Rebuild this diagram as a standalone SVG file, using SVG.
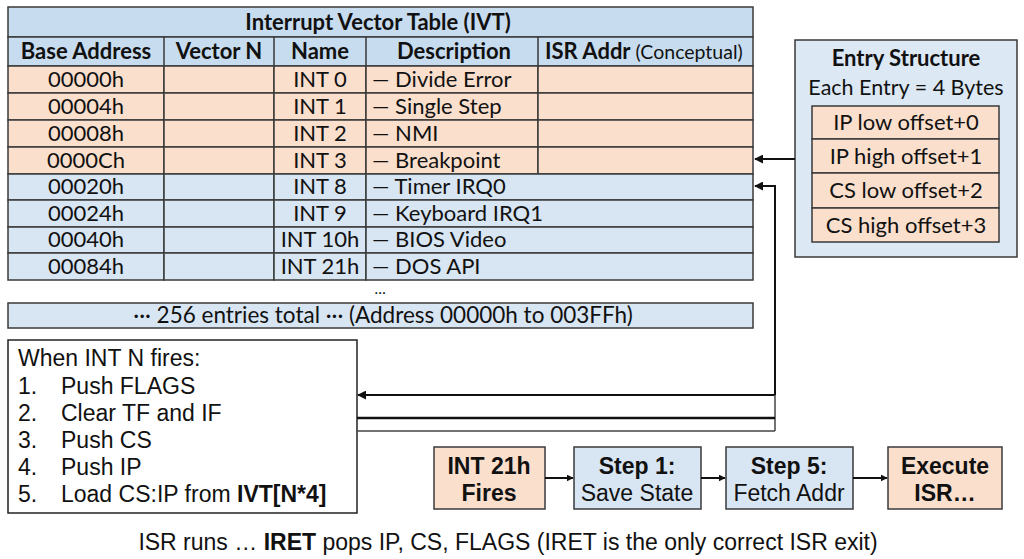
<svg xmlns="http://www.w3.org/2000/svg" width="1024" height="559" viewBox="0 0 1024 559">
<style>
.cal{font-family:Lato,"Open Sans","Noto Sans",sans-serif;fill:#111}
.ar{font-family:"Liberation Sans",Arial,sans-serif;fill:#111}
.b{font-weight:bold}
.peach{fill:#fadfcd;stroke:#3a3a3a;stroke-width:1.5}
.blue{fill:#d8e5f2;stroke:#3a3a3a;stroke-width:1.5}
.hdr{fill:#c8dcef;stroke:#3a3a3a;stroke-width:1.5}
.cell{font-size:22px}
.ctr{text-anchor:middle}
.ln{stroke:#111;stroke-width:2;fill:none}
.st{font-size:23px}
</style>
<defs>
<marker id="ah" viewBox="0 0 10 10" refX="9" refY="5" markerWidth="7" markerHeight="7" orient="auto" markerUnits="userSpaceOnUse">
<path d="M0,0 L10,5 L0,10 z" fill="#111"/>
</marker>
<marker id="ah2" viewBox="0 0 10 10" refX="9" refY="5" markerWidth="9" markerHeight="9" orient="auto" markerUnits="userSpaceOnUse">
<path d="M0,0 L10,5 L0,10 z" fill="#111"/>
</marker>
</defs>
<rect width="1024" height="559" fill="#ffffff"/>

<g id="ivt-table">
<rect class="hdr" x="8" y="7" width="745" height="30"/>
<text class="cal b ctr" x="378" y="30" font-size="22">Interrupt Vector Table (IVT)</text>
<rect class="hdr" x="8" y="37" width="745" height="29"/>
<line x1="164" y1="37" x2="164" y2="66" stroke="#3a3a3a" stroke-width="1.5"/>
<line x1="274" y1="37" x2="274" y2="66" stroke="#3a3a3a" stroke-width="1.5"/>
<line x1="366" y1="37" x2="366" y2="66" stroke="#3a3a3a" stroke-width="1.5"/>
<line x1="538" y1="37" x2="538" y2="66" stroke="#3a3a3a" stroke-width="1.5"/>
<text class="cal b ctr" x="86" y="59" font-size="22">Base Address</text>
<text class="cal b ctr" x="219" y="59" font-size="22">Vector N</text>
<text class="cal b ctr" x="320" y="59" font-size="22">Name</text>
<text class="cal b ctr" x="454" y="59" font-size="22">Description</text>
<text class="cal" x="545" y="59" font-size="22"><tspan font-weight="bold">ISR Addr</tspan><tspan font-size="19.5"> (Conceptual)</tspan></text>

<g id="row-0">
<rect class="peach" x="8" y="66" width="156" height="27"/><rect class="peach" x="164" y="66" width="110" height="27"/><rect class="peach" x="274" y="66" width="92" height="27"/><rect class="peach" x="366" y="66" width="172" height="27"/><rect class="peach" x="538" y="66" width="215" height="27"/>
<text class="cal cell ctr" x="86" y="87">00000h</text><text class="cal cell ctr" x="320" y="87">INT 0</text><text class="cal cell" x="372" y="87">— Divide Error</text>
</g>
<g id="row-1">
<rect class="peach" x="8" y="93" width="156" height="27"/><rect class="peach" x="164" y="93" width="110" height="27"/><rect class="peach" x="274" y="93" width="92" height="27"/><rect class="peach" x="366" y="93" width="172" height="27"/><rect class="peach" x="538" y="93" width="215" height="27"/>
<text class="cal cell ctr" x="86" y="114">00004h</text><text class="cal cell ctr" x="320" y="114">INT 1</text><text class="cal cell" x="372" y="114">— Single Step</text>
</g>
<g id="row-2">
<rect class="peach" x="8" y="120" width="156" height="27"/><rect class="peach" x="164" y="120" width="110" height="27"/><rect class="peach" x="274" y="120" width="92" height="27"/><rect class="peach" x="366" y="120" width="172" height="27"/><rect class="peach" x="538" y="120" width="215" height="27"/>
<text class="cal cell ctr" x="86" y="141">00008h</text><text class="cal cell ctr" x="320" y="141">INT 2</text><text class="cal cell" x="372" y="141">— NMI</text>
</g>
<g id="row-3">
<rect class="peach" x="8" y="147" width="156" height="27"/><rect class="peach" x="164" y="147" width="110" height="27"/><rect class="peach" x="274" y="147" width="92" height="27"/><rect class="peach" x="366" y="147" width="172" height="27"/><rect class="peach" x="538" y="147" width="215" height="27"/>
<text class="cal cell ctr" x="86" y="168">0000Ch</text><text class="cal cell ctr" x="320" y="168">INT 3</text><text class="cal cell" x="372" y="168">— Breakpoint</text>
</g>
<g id="row-4">
<rect class="blue" x="8" y="174" width="156" height="26"/><rect class="blue" x="164" y="174" width="110" height="26"/><rect class="blue" x="274" y="174" width="92" height="26"/><rect class="blue" x="366" y="174" width="387" height="26"/>
<text class="cal cell ctr" x="86" y="194">00020h</text><text class="cal cell ctr" x="320" y="194">INT 8</text><text class="cal cell" x="372" y="194">— Timer IRQ0</text>
</g>
<g id="row-5">
<rect class="blue" x="8" y="200" width="156" height="27"/><rect class="blue" x="164" y="200" width="110" height="27"/><rect class="blue" x="274" y="200" width="92" height="27"/><rect class="blue" x="366" y="200" width="387" height="27"/>
<text class="cal cell ctr" x="86" y="221">00024h</text><text class="cal cell ctr" x="320" y="221">INT 9</text><text class="cal cell" x="372" y="221">— Keyboard IRQ1</text>
</g>
<g id="row-6">
<rect class="blue" x="8" y="227" width="156" height="26"/><rect class="blue" x="164" y="227" width="110" height="26"/><rect class="blue" x="274" y="227" width="92" height="26"/><rect class="blue" x="366" y="227" width="387" height="26"/>
<text class="cal cell ctr" x="86" y="247">00040h</text><text class="cal cell ctr" x="320" y="247">INT 10h</text><text class="cal cell" x="372" y="247">— BIOS Video</text>
</g>
<g id="row-7">
<rect class="blue" x="8" y="253" width="156" height="27"/><rect class="blue" x="164" y="253" width="110" height="27"/><rect class="blue" x="274" y="253" width="92" height="27"/><rect class="blue" x="366" y="253" width="387" height="27"/>
<text class="cal cell ctr" x="86" y="274">00084h</text><text class="cal cell ctr" x="320" y="274">INT 21h</text><text class="cal cell" x="372" y="274">— DOS API</text>
</g>
<text class="cal ctr" x="380" y="294" font-size="15">…</text>
<g id="row-total">
<rect class="blue" x="8" y="303" width="745" height="25"/>
<text class="cal ctr" x="383" y="323" font-size="22.5">··· 256 entries total ··· (Address 00000h to 003FFh)</text>
</g>
</g>

<g id="entry-structure">
<rect x="795" y="40" width="222" height="217" fill="#dce8f4" stroke="#3a3a3a" stroke-width="1.5"/>
<text class="cal b ctr" x="906" y="66" font-size="22">Entry Structure</text>
<text class="cal ctr" x="906" y="95" font-size="21.5">Each Entry = 4 Bytes</text>
<rect class="peach" x="812" y="106" width="187" height="33"/>
<rect class="peach" x="812" y="139" width="187" height="34"/>
<rect class="peach" x="812" y="173" width="187" height="35"/>
<rect class="peach" x="812" y="208" width="187" height="34"/>
<text class="cal ctr" x="906" y="130" font-size="22">IP low offset+0</text>
<text class="cal ctr" x="906" y="164" font-size="22">IP high offset+1</text>
<text class="cal ctr" x="906" y="198" font-size="22">CS low offset+2</text>
<text class="cal ctr" x="906" y="233" font-size="22">CS high offset+3</text>
</g>

<g id="steps-box">
<rect x="8" y="340" width="349" height="173" fill="#ffffff" stroke="#222" stroke-width="1.5"/>
<text class="ar st" x="18" y="366">When INT N fires:</text>
<text class="ar st" x="18" y="394">1.</text><text class="ar st" x="61" y="394">Push FLAGS</text>
<text class="ar st" x="18" y="421">2.</text><text class="ar st" x="61" y="421">Clear TF and IF</text>
<text class="ar st" x="18" y="448">3.</text><text class="ar st" x="61" y="448">Push CS</text>
<text class="ar st" x="18" y="475">4.</text><text class="ar st" x="61" y="475">Push IP</text>
<text class="ar st" x="18" y="502">5.</text><text class="ar st" x="61" y="502">Load CS:IP from <tspan font-weight="bold">IVT[N*4]</tspan></text>
</g>

<g id="flow-int21">
<rect x="434" y="447" width="111" height="62" fill="#fadfcd" stroke="#3a3a3a" stroke-width="1.5"/>
<text class="ar b ctr st" x="489" y="474">INT 21h</text>
<text class="ar b ctr st" x="489" y="501">Fires</text>
</g>
<g id="flow-step1">
<rect x="574" y="447" width="127" height="62" fill="#d8e5f2" stroke="#3a3a3a" stroke-width="1.5"/>
<text class="ar b ctr st" x="637" y="474">Step 1:</text>
<text class="ar ctr st" x="637" y="501">Save State</text>
</g>
<g id="flow-step5">
<rect x="726" y="447" width="127" height="62" fill="#d8e5f2" stroke="#3a3a3a" stroke-width="1.5"/>
<text class="ar b ctr st" x="789" y="474">Step 5:</text>
<text class="ar ctr st" x="789" y="501">Fetch Addr</text>
</g>
<g id="flow-execute">
<rect x="888" y="447" width="114" height="62" fill="#fadfcd" stroke="#3a3a3a" stroke-width="1.5"/>
<text class="ar b ctr st" x="945" y="474">Execute</text>
<text class="ar b ctr st" x="945" y="501">ISR…</text>
</g>

<g id="connectors">
<line class="ln" x1="795" y1="159" x2="755" y2="159" marker-end="url(#ah2)"/>
<polyline class="ln" points="775,395 775,186 755,186" marker-end="url(#ah2)"/>
<line class="ln" x1="775" y1="395" x2="358" y2="395" marker-end="url(#ah2)"/>
<line x1="775" y1="395" x2="775" y2="431" stroke="#444" stroke-width="1.5"/>
<line x1="357" y1="418" x2="775" y2="418" stroke="#111" stroke-width="2.5"/>
<line x1="357" y1="431" x2="775" y2="431" stroke="#444" stroke-width="1.5"/>
<line class="ln" x1="545" y1="478" x2="573" y2="478" marker-end="url(#ah)"/>
<line class="ln" x1="701" y1="478" x2="725" y2="478" marker-end="url(#ah)"/>
<line class="ln" x1="853" y1="478" x2="887" y2="478" marker-end="url(#ah)"/>
</g>

<text class="ar ctr" x="508" y="550" font-size="23">ISR runs … <tspan font-weight="bold">IRET</tspan> pops IP, CS, FLAGS (IRET is the only correct ISR exit)</text>
</svg>
